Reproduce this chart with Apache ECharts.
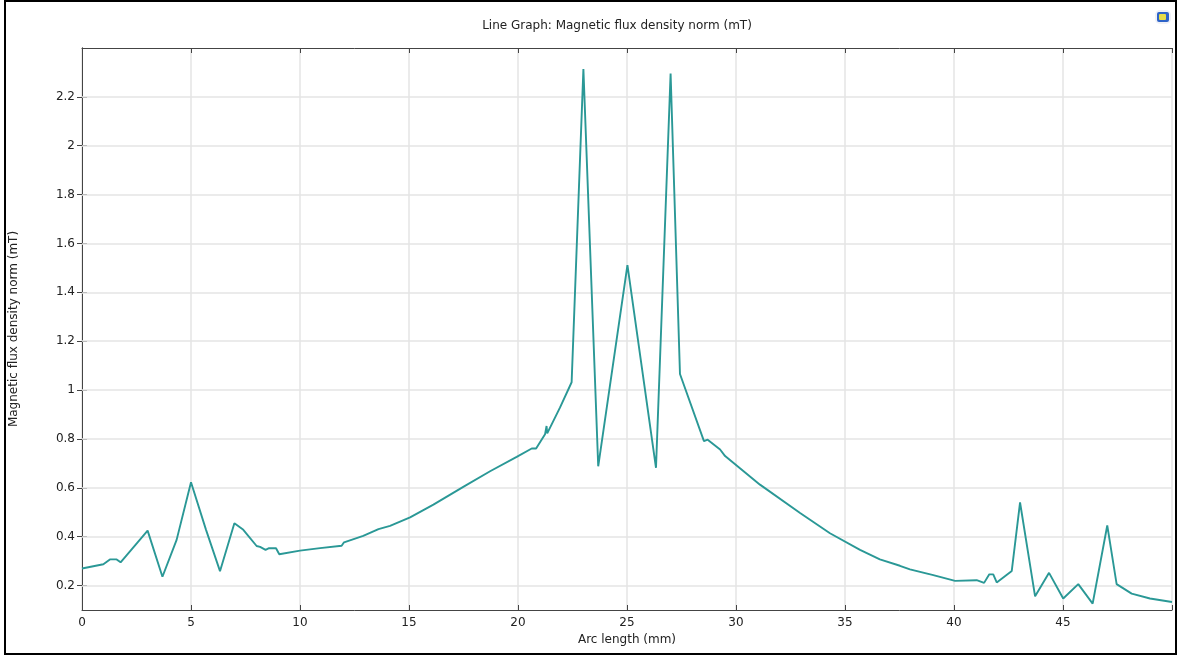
<!DOCTYPE html>
<html>
<head>
<meta charset="utf-8">
<script src="https://cdn.jsdelivr.net/npm/echarts@6/dist/echarts.min.js"></script>
<style>
html,body{margin:0;padding:0;background:#fff;}
#chart{width:1179px;height:656px;}
</style>
</head>
<body>
<div id="chart"></div>
<script>
// Arc length (mm)
const arcLength = [0, 0.98, 1.28, 1.59, 1.77, 3.01, 3.69, 4.34, 5.0, 5.69, 6.33, 6.99, 7.4, 8.01, 8.17, 8.42, 8.58, 8.9, 9.05,
  10.0, 10.92, 11.91, 12.02, 12.9, 13.6, 14.13, 15.05, 16.12, 17.49, 18.72, 19.94, 20.63, 20.83, 21.24, 21.31, 21.34,
  21.93, 22.46, 23.0, 23.68, 25.02, 26.33, 27.0, 27.43, 28.53, 28.7, 29.27, 29.5, 31.1, 32.94, 34.31, 35.69, 36.6,
  37.52, 37.98, 39.05, 40.05, 41.04, 41.38, 41.62, 41.8, 41.96, 42.65, 43.03, 43.72, 44.36, 45.01, 45.7, 46.36,
  47.03, 47.46, 48.15, 48.99, 50.0];
// Magnetic flux density norm (mT)
const fluxNorm = [0.27, 0.287, 0.307, 0.307, 0.295, 0.425, 0.236, 0.387, 0.623, 0.428, 0.259, 0.455, 0.428, 0.362, 0.358, 0.346, 0.353, 0.353, 0.328,
  0.343, 0.353, 0.363, 0.377, 0.403, 0.431, 0.444, 0.479, 0.531, 0.604, 0.668, 0.727, 0.761, 0.761, 0.819, 0.853, 0.823,
  0.929, 1.032, 2.314, 0.688, 1.511, 0.682, 2.296, 1.066, 0.791, 0.797, 0.757, 0.73, 0.613, 0.497, 0.414, 0.346, 0.307,
  0.281, 0.266, 0.243, 0.219, 0.222, 0.211, 0.246, 0.246, 0.213, 0.26, 0.54, 0.156, 0.252, 0.147, 0.206, 0.126,
  0.446, 0.206, 0.167, 0.147, 0.133];
const yTicks = [0.2, 0.4, 0.6, 0.8, 1, 1.2, 1.4, 1.6, 1.8, 2, 2.2];
const xTicks = [0, 5, 10, 15, 20, 25, 30, 35, 40, 45];

const lineData = arcLength.map((x, i) => [x, fluxNorm[i]]);
const axisCol = '#444';
const gridCol = '#e4e4e4';
const font = 'DejaVu Sans';

const chart = echarts.init(document.getElementById('chart'), null, {renderer: 'canvas'});
chart.setOption({
  animation: false,
  backgroundColor: '#fff',
  textStyle: {fontFamily: font},
  title: {
    text: 'Line Graph: Magnetic flux density norm (mT)',
    left: 612, top: 15, textAlign: 'center',
    textStyle: {fontSize: 12, fontWeight: 'normal', color: '#222', fontFamily: font}
  },
  grid: {left: 82, top: 48, right: 7, bottom: 46, containLabel: false},
  xAxis: [{
    type: 'value', min: 0, max: 50, interval: 5, position: 'bottom',
    name: 'Arc length (mm)', nameLocation: 'middle', nameGap: 24,
    nameTextStyle: {fontSize: 12, color: '#222', fontFamily: font},
    axisLine: {show: true, lineStyle: {color: axisCol, width: 1}},
    axisTick: {show: true, inside: true, length: 5, lineStyle: {color: axisCol}},
    axisLabel: {color: '#222', fontSize: 12, margin: 7, fontFamily: font,
      formatter: v => (xTicks.indexOf(v) >= 0 ? String(v) : '')},
    splitLine: {show: true, lineStyle: {color: gridCol, width: 1.5}}
  }, {
    type: 'value', min: 0, max: 50, interval: 5, position: 'top',
    axisLine: {show: true, lineStyle: {color: axisCol, width: 1}},
    axisTick: {show: true, inside: true, length: 5, lineStyle: {color: axisCol}},
    axisLabel: {show: false}, splitLine: {show: false}
  }],
  yAxis: [{
    type: 'value', min: 0.1, max: 2.4, position: 'left',
    name: 'Magnetic flux density norm (mT)', nameLocation: 'middle', nameGap: 62, nameRotate: 90,
    nameTextStyle: {fontSize: 12, color: '#222', fontFamily: font},
    axisLine: {show: true, lineStyle: {color: axisCol, width: 1}},
    axisTick: {show: true, inside: true, length: 5, lineStyle: {color: axisCol}, customValues: yTicks},
    axisLabel: {color: '#222', fontSize: 12, margin: 7, fontFamily: font, customValues: yTicks,
      formatter: v => String(Math.round(v * 10) / 10)},
    splitLine: {show: false}
  }, {
    type: 'value', min: 0.1, max: 2.4, position: 'right',
    axisLine: {show: true, lineStyle: {color: axisCol, width: 1}},
    axisTick: {show: true, inside: true, length: 5, lineStyle: {color: axisCol}, customValues: yTicks},
    axisLabel: {show: false, customValues: yTicks}, splitLine: {show: false}
  }],
  series: [{
    type: 'line', xAxisIndex: 0, yAxisIndex: 0, data: [], z: 1, silent: true,
    markLine: {
      silent: true, symbol: ['none', 'none'], label: {show: false},
      lineStyle: {color: gridCol, width: 1.5, type: 'solid'},
      data: yTicks.map(v => ({yAxis: v}))
    }
  }, {
    type: 'line', xAxisIndex: 0, yAxisIndex: 0, data: lineData, z: 5,
    showSymbol: false, symbol: 'none',
    lineStyle: {color: '#2a9896', width: 1.9},
    clip: true
  }],
  graphic: [{
    type: 'rect', z: 100, silent: true,
    shape: {x: 5, y: 1, width: 1171, height: 653},
    style: {fill: 'none', stroke: '#000', lineWidth: 2}
  }, {
    type: 'rect', z: 100, silent: true,
    shape: {x: 1155, y: 10, width: 16, height: 14, r: 5},
    style: {fill: '#eef0f6', stroke: 'none'}
  }, {
    type: 'rect', z: 101, silent: true,
    shape: {x: 1157, y: 12, width: 12, height: 10, r: 2},
    style: {fill: '#2d63c8'}
  }, {
    type: 'rect', z: 102, silent: true,
    shape: {x: 1159, y: 14, width: 7, height: 6, r: 1},
    style: {fill: '#e6dc48'}
  }]
});
</script>
</body>
</html>
